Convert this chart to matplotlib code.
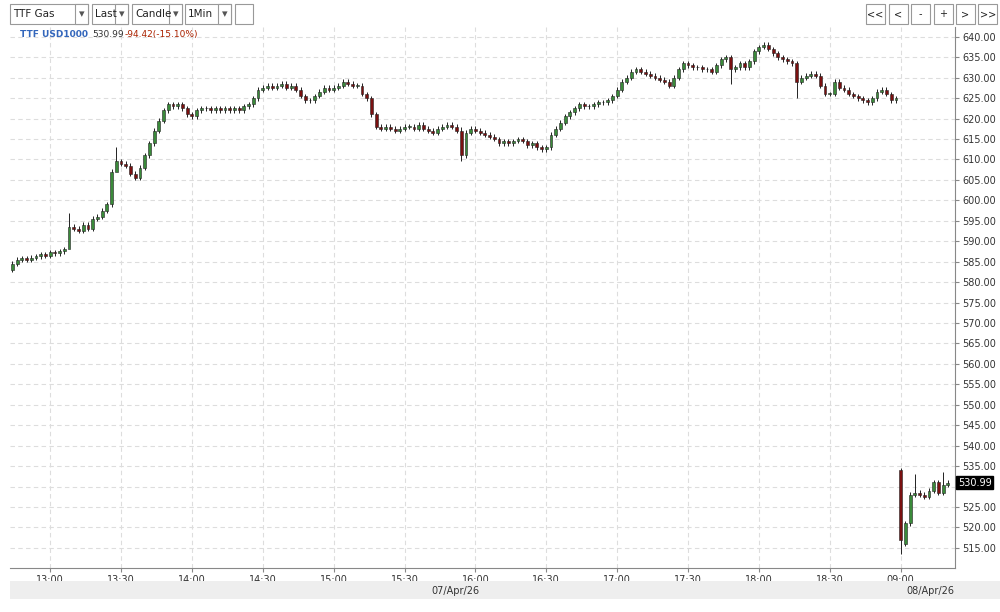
import matplotlib.pyplot as plt
from matplotlib.patches import Rectangle

# 2-minute candles, 07/Apr from 12:44, then 08/Apr from 09:00
closes_day1 = [
    584.5, 585.5, 585.8, 585.5, 586, 586.3, 586.8, 586.5, 587.3, 587,
    587.5, 588, 593.5, 593, 592.5, 594, 593, 595.5, 596, 597.5,
    599, 607, 609.5, 609, 608.5, 606.5, 605.5, 608, 611, 614,
    617, 619.5, 622, 623.5, 623, 623.5, 622.5, 621, 620.5, 622,
    622.5, 622.5, 622, 622.5, 622, 622.5, 622, 622.5, 622, 623,
    623.5, 625, 627, 627.5, 628, 627.5, 628, 628.5, 627.5, 628,
    627, 625.5, 624.5, 624.5, 625.5, 626.5, 627.5, 627, 627.5, 628,
    629, 628.5, 628, 628, 626, 625, 621, 618, 617.5, 618,
    617.5, 617, 617.5, 618, 618, 617.5, 618.5, 617.5, 617, 616.5,
    617.5, 618, 618.5, 618, 617, 611, 616.5, 617.5, 617, 616.5,
    616, 615.5, 615, 614, 614.5, 614, 614.5, 615, 614.5, 613.5,
    614, 613, 612.5, 613, 616, 617.5, 619, 620.5, 621.5, 622.5,
    623.5, 623, 623, 623.5, 624, 624, 624.5, 625.5, 627, 629,
    630, 631.5, 632, 631.5, 631, 630.5, 630, 629.5, 629, 628,
    630, 632, 633.5, 633, 632.5, 632.5, 632, 632, 631.5, 633,
    634.5, 635, 632, 632.5, 633.5, 632.5, 634, 636.5, 637.5, 638,
    637, 636, 635, 634.5, 634, 633.5, 629, 630, 630.5, 631,
    630.5, 628, 626, 626, 629, 627.5, 627, 626, 625.5, 625,
    624.5, 624, 625, 626.5, 627, 626, 624.5, 625,
]
opens_day2 = [534, 516, 521, 528, 528.5, 528, 527.5, 529, 531, 528.5, 530.5]
closes_day2 = [517, 521, 528, 528.5, 528, 527.5, 529, 531, 528.5, 530.5, 530.99]
# extra wick extremes: index -> (high, low)
spikes = {12: (597, 592), 22: (613, 608), 95: (618, 609.5), 152: (635.5, 628.5),
          166: (634, 625), 188: (534.5, 513.5), 191: (533, 527.5), 197: (533.5, 528)}

x_ticks = [8, 23, 38, 53, 68, 83, 98, 113, 128, 143, 158, 173, 188]
x_labels = ['13:00', '13:30', '14:00', '14:30', '15:00', '15:30', '16:00',
            '16:30', '17:00', '17:30', '18:00', '18:30', '09:00']
y_ticks = list(range(515, 641, 5))

opens = [closes_day1[0] - 1.5] + closes_day1[:-1] + opens_day2
closes = closes_day1 + closes_day2

fig = plt.figure(figsize=(10, 6.12), dpi=100)
fig.patch.set_facecolor('white')
ax = fig.add_axes([0.010, 0.072, 0.945, 0.884])

for i, (o, c) in enumerate(zip(opens, closes)):
    hi, lo = max(o, c) + 0.6, min(o, c) - 0.6
    if i in spikes:
        hi, lo = spikes[i]
    col = '#3a8a3a' if c >= o else '#7a1010'
    ax.vlines(i, lo, hi, color='#222222', lw=0.7, zorder=2)
    ax.add_patch(Rectangle((i - 0.3, min(o, c)), 0.6, max(abs(c - o), 0.15),
                           facecolor=col, edgecolor='#222222', lw=0.4, zorder=3))

ax.set_xlim(-0.5, 199.5)
ax.set_ylim(510.1, 642.4)
ax.yaxis.tick_right()
ax.set_yticks(y_ticks)
ax.set_yticklabels(['' if v == 530 else f'{v:.2f}' for v in y_ticks],
                   fontsize=7, color='#333333')
ax.set_xticks(x_ticks)
ax.set_xticklabels(x_labels, fontsize=7, color='#333333')
ax.grid(True, color='#dddddd', ls=(0, (4, 3)), lw=0.8)
ax.tick_params(length=3, color='#888888', pad=2)
for s in ['top', 'left']:
    ax.spines[s].set_visible(False)
ax.spines['right'].set_color('#888888')
ax.spines['bottom'].set_color('#888888')

# last price tag
last = closes[-1]
ax.text(1.003, (last - 510.1) / (642.4 - 510.1), f'{last:.2f}', transform=ax.transAxes,
        fontsize=7, color='white', va='center', ha='left',
        bbox=dict(boxstyle='square,pad=0.15', fc='black', ec='black'))

# header text
fig.text(0.020, 0.940, 'TTF USD1000', fontsize=6.5, color='#3366bb', weight='bold')
fig.text(0.092, 0.940, '530.99', fontsize=6.5, color='#333333')
fig.text(0.125, 0.940, '-94.42(-15.10%)', fontsize=6.5, color='#aa2200')

# bottom date bar
fig.patches.append(Rectangle((0.01, 0.022), 0.99, 0.028, transform=fig.transFigure,
                             fc='#eeeeee', ec='none'))
fig.text(0.455, 0.030, '07/Apr/26', fontsize=7, color='#333333', ha='center')
fig.text(0.93, 0.030, '08/Apr/26', fontsize=7, color='#333333', ha='center')

# toolbar
def box(x0, w, label):
    fig.patches.append(Rectangle((x0, 0.961), w, 0.032, transform=fig.transFigure,
                                 fc='white', ec='#999999', lw=0.8))
    fig.text(x0 + 0.003, 0.977, label, fontsize=7.5, va='center', color='#222222')

for x0, w, lab in [(0.010, 0.078, 'TTF Gas'), (0.092, 0.036, 'Last'),
                   (0.132, 0.050, 'Candle'), (0.185, 0.046, '1Min')]:
    box(x0, w, lab)
    fig.patches.append(Rectangle((x0 + w - 0.013, 0.961), 0.013, 0.032,
                                 transform=fig.transFigure, fc='white', ec='#999999', lw=0.8))
    fig.text(x0 + w - 0.0065, 0.977, '▾', fontsize=8, va='center', ha='center', color='#555555')
box(0.235, 0.018, '')
for k, lab in enumerate(['<<', '<', '-', '+', '>', '>>']):
    box(0.866 + k * 0.0225, 0.019, '')
    fig.text(0.866 + k * 0.0225 + 0.0095, 0.977, lab, fontsize=7, va='center',
             ha='center', color='#222222')

fig.savefig('out.png', dpi=100)
